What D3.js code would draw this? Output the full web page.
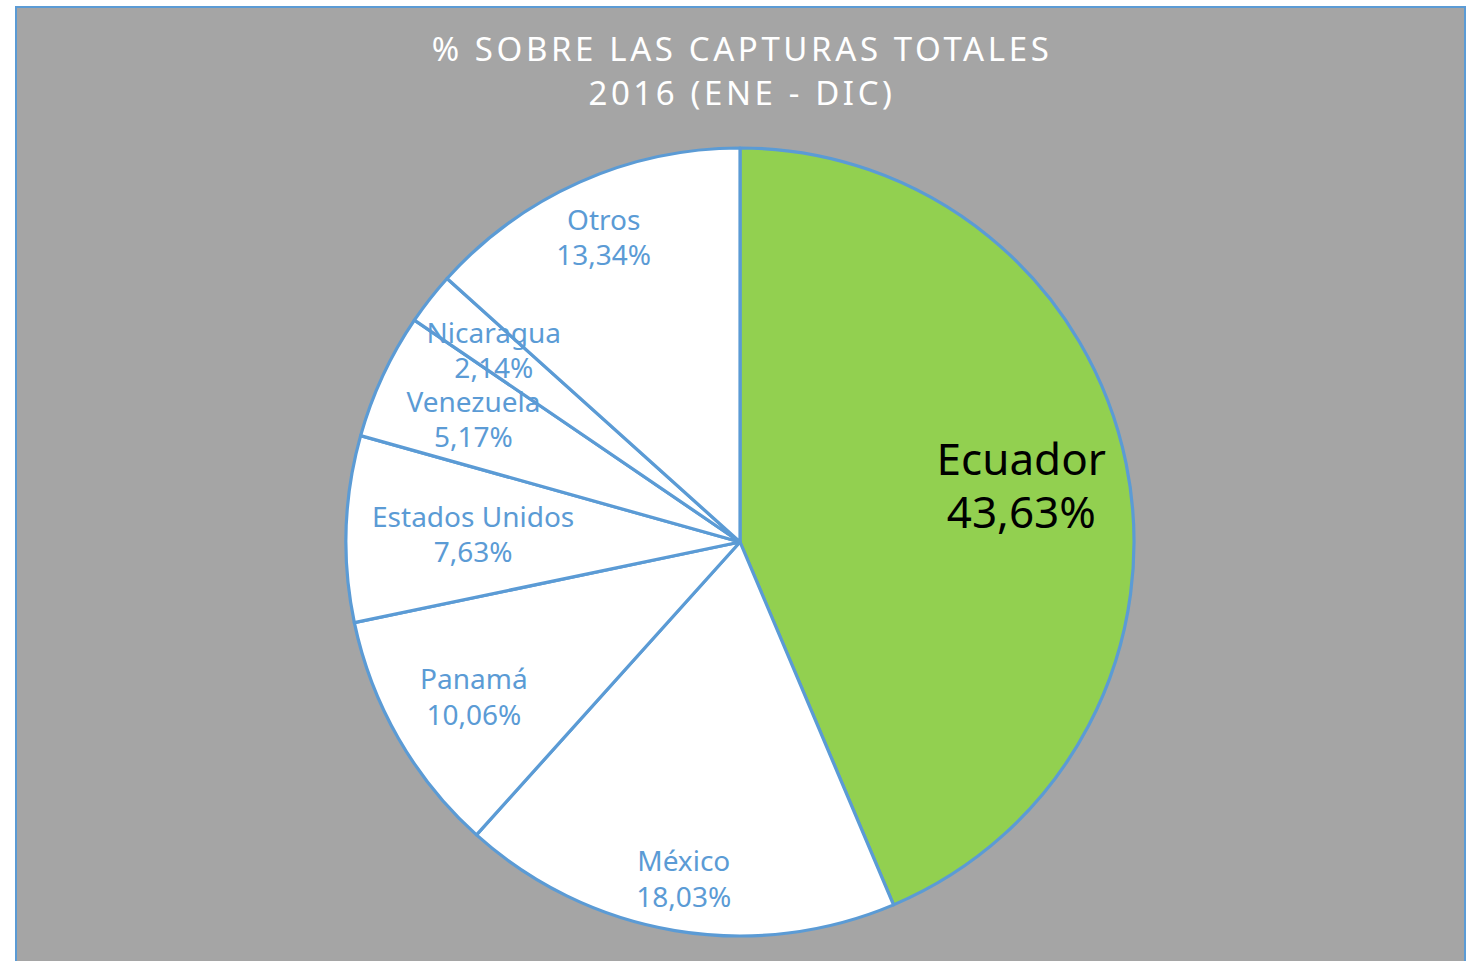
<!DOCTYPE html>
<html lang="es">
<head>
    <meta charset="UTF-8">
    <title>% sobre las capturas totales 2016</title>
    <script src="https://d3js.org/d3.v7.min.js"></script>
    <style>
        body { margin: 0; background: #ffffff; }
        svg { display: block; }
    </style>
</head>
<body>

<script>
    // Datos
    var paises = ["Ecuador", "México", "Panamá", "Estados Unidos", "Venezuela", "Nicaragua", "Otros"];
    var porcentajes = [43.63, 18.03, 10.06, 7.63, 5.17, 2.14, 13.34];
    var titulo = ["% SOBRE LAS CAPTURAS TOTALES", "2016 (ENE - DIC)"];

    var data = paises.map(function (p, i) { return { pais: p, valor: porcentajes[i] }; });

    // Tamaño
    var width = 1479;
    var height = 961;
    var cx = 740, cy = 542, radio = 394;
    var azul = "#5b9bd5";

    // radio de las etiquetas (ajuste tipo "mejor ajuste" de Excel)
    var radioEtiqueta = {
        "Ecuador": 287, "México": 340, "Panamá": 307, "Estados Unidos": 267,
        "Venezuela": 294, "Nicaragua": 313, "Otros": 335
    };

    var svg = d3.select("body").append("svg")
        .attr("width", width)
        .attr("height", height);

    // Fondo gris del gráfico
    svg.append("rect")
        .attr("x", 16).attr("y", 7)
        .attr("width", 1449).attr("height", 980)
        .attr("fill", "#a5a5a5")
        .attr("stroke", azul)
        .attr("stroke-width", 2);

    // Título
    svg.append("text")
        .attr("x", cx).attr("y", 61)
        .attr("text-anchor", "middle")
        .attr("fill", "#ffffff")
        .style("font-family", "'Noto Sans', sans-serif")
        .style("font-size", "33px")
        .style("letter-spacing", "3.6px")
        .selectAll("tspan")
        .data(titulo)
        .enter().append("tspan")
        .attr("x", cx + 2)
        .attr("dy", function (d, i) { return i === 0 ? 0 : 44; })
        .text(function (d) { return d; });

    var pie = d3.pie().sort(null).value(function (d) { return d.valor; });
    var arc = d3.arc().innerRadius(0).outerRadius(radio);

    var g = svg.append("g").attr("transform", "translate(" + cx + "," + cy + ")");

    var arcos = pie(data);

    g.selectAll("path")
        .data(arcos)
        .enter().append("path")
        .attr("d", arc)
        .attr("fill", function (d) { return d.data.pais === "Ecuador" ? "#92d050" : "#ffffff"; })
        .attr("stroke", azul)
        .attr("stroke-width", 3.2)
        .attr("stroke-linejoin", "round");

    // Etiquetas
    var etiquetas = g.selectAll("text.etq")
        .data(arcos)
        .enter().append("text")
        .attr("class", "etq")
        .attr("text-anchor", "middle")
        .style("font-family", "'Noto Sans', sans-serif")
        .attr("fill", function (d) { return d.data.pais === "Ecuador" ? "#000000" : azul; })
        .style("font-size", function (d) { return d.data.pais === "Ecuador" ? "44px" : "28px"; })
        .attr("transform", function (d) {
            var r = radioEtiqueta[d.data.pais];
            var c = d3.arc().innerRadius(r).outerRadius(r).centroid(d);
            return "translate(" + c[0] + "," + c[1] + ")";
        });

    etiquetas.append("tspan")
        .attr("x", 0)
        .attr("dy", function (d) { return d.data.pais === "Ecuador" ? "-0.22em" : "-0.22em"; })
        .text(function (d) { return d.data.pais; });

    etiquetas.append("tspan")
        .attr("x", 0)
        .attr("dy", function (d) { return d.data.pais === "Ecuador" ? "1.2em" : "1.27em"; })
        .text(function (d) { return d3.format(".2f")(d.data.valor).replace(".", ",") + "%"; });
</script>

</body>
</html>
